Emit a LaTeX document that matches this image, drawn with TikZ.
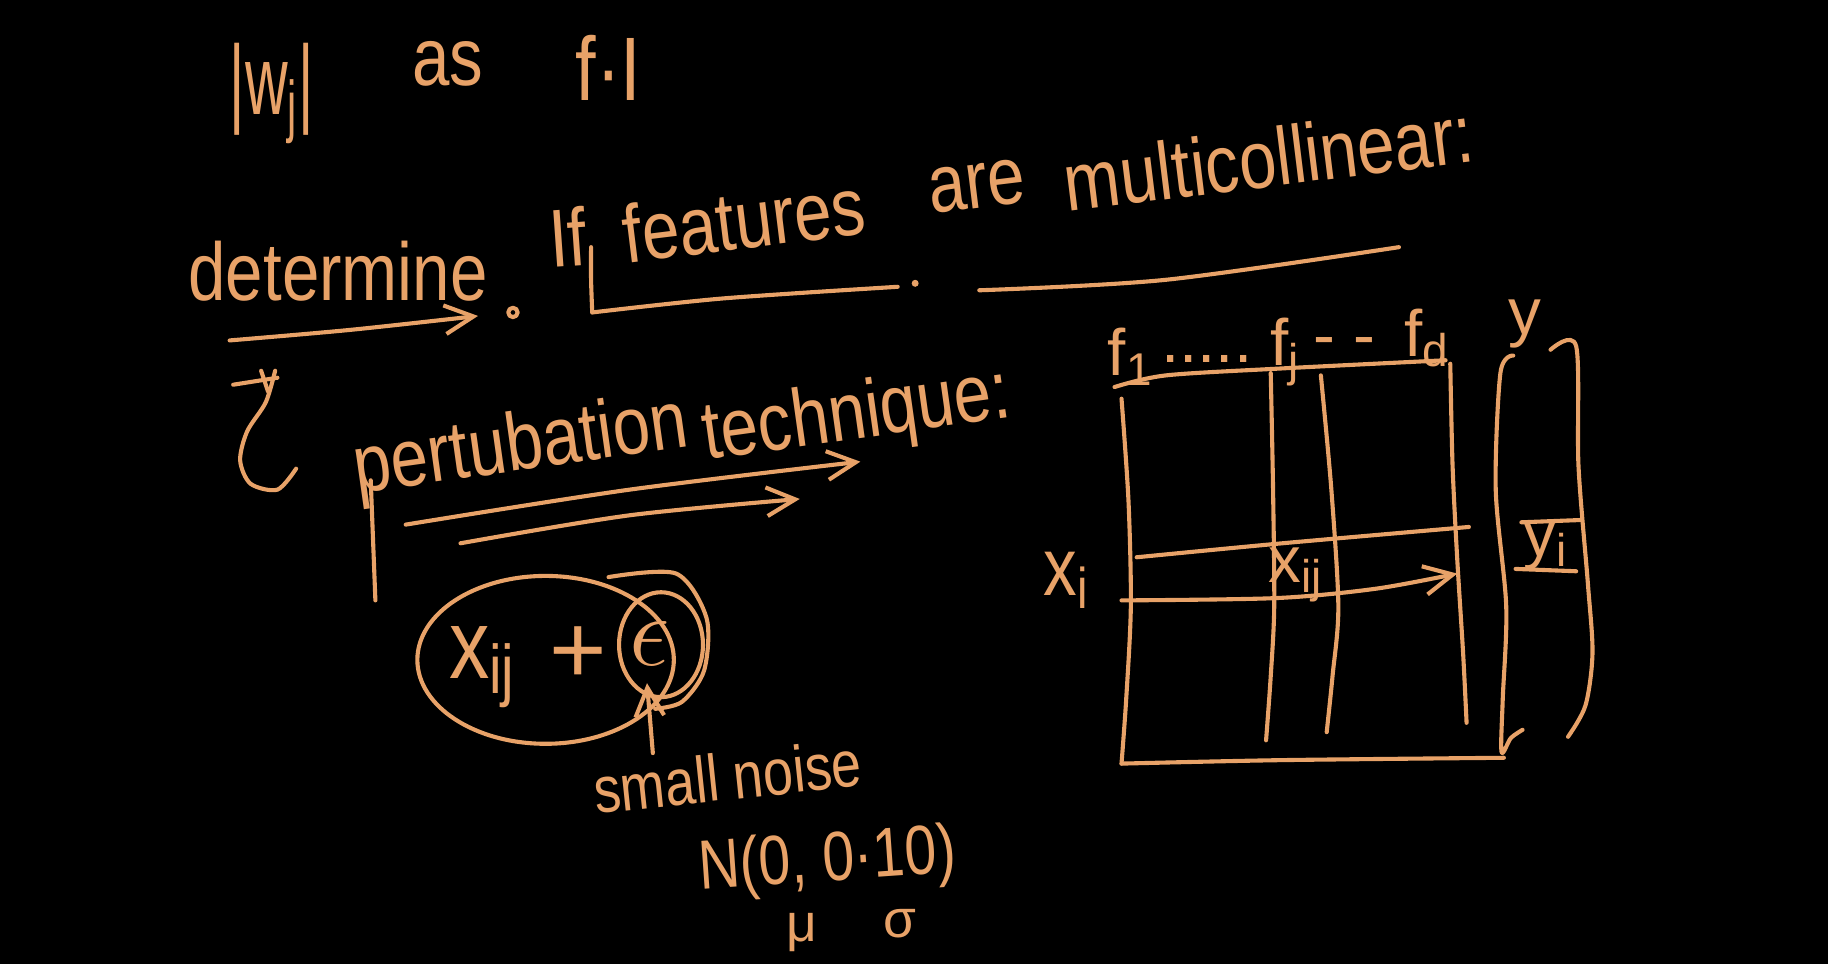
\documentclass[tikz,border=0pt]{standalone}
\usepackage{fontspec}
\usepackage{graphicx}
\setmainfont{Liberation Sans}
\usetikzlibrary{arrows.meta}
\definecolor{ink}{RGB}{232,162,104}
\newcommand\hand[1]{\scalebox{0.82}[1]{#1}}
\begin{document}
\begin{tikzpicture}[x=0.01cm,y=-0.01cm,
  hw/.style={text=ink, font=\fontsize{20}{24}\selectfont, inner sep=0pt},
  sm/.style={text=ink, font=\fontsize{16}{19}\selectfont, inner sep=0pt},
  pen/.style={draw=ink, line width=1pt, line cap=round, line join=round},
  tip/.style={-{Straight Barb[length=7pt,width=7pt]}}]
\fill[black] (0,0) rectangle (1568,827);
\useasboundingbox (0,0) rectangle (1568,827);

% top line
\node[hw, font=\fontsize{24}{28}\selectfont] (wj) at (233,80) {\scalebox{0.6}[1]{|w\textsubscript{j}|}};
\node[hw] (as) at (384,55) {\hand{as}};
\node[hw, font=\fontsize{22}{26}\selectfont] (fI) at (522,58) {\hand{f\textperiodcentered I}};

% determine / If features are multicollinear
\node[hw] (det) at (290,233) {\hand{determine}};
\coordinate (detA) at (197,292);
\coordinate (detB) at (410,271);
\draw[pen,tip] plot[smooth] coordinates {(detA) (300,283) (detB)};
\draw[pen] (440,268) circle (4);

\node[hw, rotate=4] (if) at (487,203) {\hand{If}};
\node[hw, rotate=7] (feat) at (638,188) {\hand{features}};
\node[hw, rotate=7] (are) at (838,160) {\hand{are}};
\node[hw, rotate=7] (multi) at (1088,135) {\hand{multicollinear:}};

\draw[pen] plot[smooth] coordinates {(507,212) (507,240) (508,268)};
\draw[pen] plot[smooth] coordinates {(508,268) (620,256) (770,246)};
\fill[ink] (785,243) circle (3);
\draw[pen] plot[smooth] coordinates {(840,249) (1000,240) (1200,212)};

% hook symbol
\draw[pen] (200,330) -- (238,324);
\draw[pen] (224,318) -- (230,336);
\draw[pen] plot[smooth] coordinates {(236,318) (228,345) (212,370) (206,395) (215,415) (238,420) (254,402)};

% pertubation technique
\node[hw, rotate=8] (pert) at (447,385) {\hand{pertubation}};
\node[hw, rotate=8] (tech) at (735,358) {\hand{technique:}};
\draw[pen] (318,412) -- (322,515);
\draw[pen,tip] plot[smooth] coordinates {(348,450) (540,420) (738,396)};
\draw[pen,tip] plot[smooth] coordinates {(395,466) (540,442) (686,428)};

% x_ij + epsilon
\draw[pen] (468,566) ellipse [x radius=110, y radius=72];
\node[hw, font=\fontsize{24}{28}\selectfont] (xij) at (414,572) {\hand{x\textsubscript{ij}}};
\node[hw, font=\fontsize{24}{28}\selectfont] (plus) at (496,562) {+};
\node[hw, font=\fontsize{28}{30}\selectfont] (eps) at (557,552) {$\epsilon$};
\draw[pen] (567,553) ellipse [x radius=36, y radius=45];
\draw[pen] plot[smooth] coordinates {(522,495) (580,492) (606,530) (604,575) (585,602) (562,608)};

% small noise
\node[hw, font=\fontsize{16}{19}\selectfont, rotate=6] (noise) at (624,666) {\hand{small noise}};
\coordinate (arrS) at (560,646);
\coordinate (arrE) at (555,586);
\draw[pen,tip] (arrS) -- (arrE);
\node[hw, font=\fontsize{17}{20}\selectfont, rotate=4] (norm) at (710,740) {\hand{N(0, 0\textperiodcentered 10)}};
\node[sm, font=\fontsize{13}{15}\selectfont] (mu) at (688,800) {μ};
\node[sm, font=\fontsize{13}{15}\selectfont] (sigma) at (772,792) {σ};

% matrix labels
\node[sm] (f1) at (970,306) {f\textsubscript{1}};
\node[sm] (dots) at (1035,308) {.....};
\node[sm] (fj) at (1103,302) {f\textsubscript{j}};
\node[sm] (dash) at (1153,298) {- -};
\node[sm] (fd) at (1224,290) {f\textsubscript{d}};
\node[sm] (y) at (1308,278) {y};
\node[hw] (xi) at (915,498) {\hand{x\textsubscript{i}}};
\node[sm] (xijm) at (1112,493) {x\textsubscript{ij}};
\node[sm] (yi) at (1326,468) {y\textsubscript{i}};

% matrix lines
\draw[pen] plot[smooth] coordinates {(956,332) (1000,322) (1100,316) (1240,309)};
\draw[pen] plot[smooth] coordinates {(962,342) (968,430) (970,520) (966,600) (962,655)};
\draw[pen] plot[smooth] coordinates {(962,655) (1100,652) (1290,650)};
\draw[pen] plot[smooth] coordinates {(1090,320) (1092,420) (1093,520) (1090,580) (1086,635)};
\draw[pen] plot[smooth] coordinates {(1133,322) (1142,420) (1148,520) (1143,580) (1138,628)};
\draw[pen] plot[smooth] coordinates {(1244,312) (1246,400) (1250,480) (1255,560) (1258,620)};
\draw[pen] plot[smooth] coordinates {(975,478) (1100,466) (1260,452)};
\draw[pen,tip] plot[smooth] coordinates {(962,515) (1095,513) (1180,505) (1250,492)};

% y vector
\draw[pen] plot[smooth] coordinates {(1298,305) (1287,320) (1283,420) (1292,520) (1289,600) (1288,645) (1296,633) (1306,626)};
\draw[pen] plot[smooth] coordinates {(1330,300) (1352,297) (1354,400) (1362,500) (1366,560) (1360,605) (1345,632)};
\draw[pen] (1305,448) -- (1357,446);
\draw[pen] (1300,488) -- (1352,490);
\end{tikzpicture}
\end{document}
